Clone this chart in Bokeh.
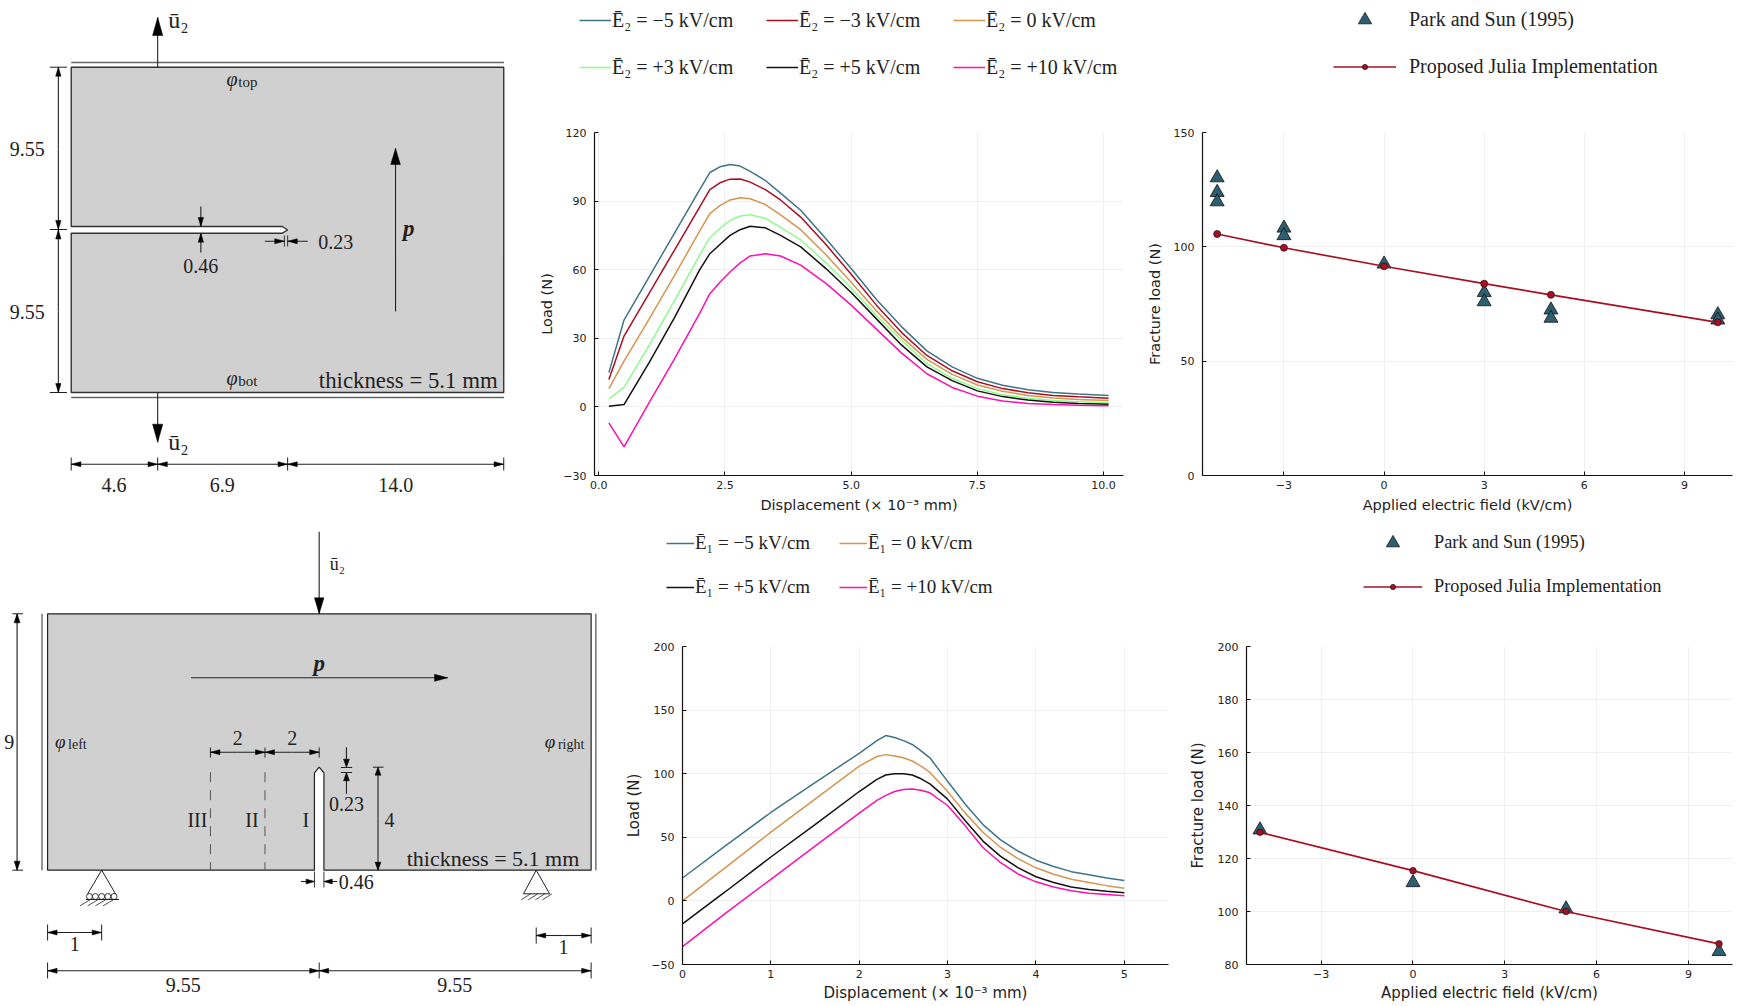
from bokeh.plotting import figure
from bokeh.layouts import column, row
from bokeh.models import Range1d, FixedTicker, Legend, LegendItem
from bokeh.core.properties import value
from bokeh.embed import file_html
from bokeh.resources import INLINE

# ---------- data ----------
top_disp = [0.2,0.5,1,1.5,2,2.2,2.4,2.6,2.8,3.0,3.3,3.6,4,4.5,5,5.5,6,6.5,7,7.5,8,8.5,9,9.5,10.1]
top_m5  = [15,38,57,76,95,102.5,105,106,105.3,103,99,93.5,86,73.5,60.5,47,35,24.5,17.5,12.5,9.5,7.5,6.3,5.6,5]
top_m3  = [12,31,49.8,68.6,87.5,95,98,99.6,99.7,98.3,95,90.5,83,71,58,44.5,32.5,22.5,15.8,11,8,6.2,5,4.4,3.8]
top_0   = [8,20,38.5,57.5,77,84.5,88,90.5,91.5,91,88.5,84,77.5,66.5,54.5,42,30.5,20.8,14.2,9.6,6.8,5,3.9,3.2,2.8]
top_p3  = [3.5,8.5,27,46.5,66.5,74,78,81.5,83.5,84,82.5,78.5,73,63,52,40,29,19,12.5,8,5.3,3.8,2.8,2.2,1.8]
top_p5  = [0.3,1,19.5,39,60,67,71,75,77.5,79,78.3,75,70,60.5,50,38.5,27,17.5,11.5,7,4.5,3,2,1.5,1.2]
top_p10 = [-7,-17.5,2,21,41,49.5,54.5,59,63,66,67,66,62,54,44.5,34,23.5,14.5,8.5,4.7,2.6,1.5,1,0.7,0.5]
top_labels = ["Ē₂ = −5 kV/cm","Ē₂ = −3 kV/cm","Ē₂ = 0 kV/cm","Ē₂ = +3 kV/cm","Ē₂ = +5 kV/cm","Ē₂ = +10 kV/cm"]

bot_disp = [0,0.5,1,1.5,2,2.2,2.3,2.4,2.5,2.6,2.7,2.8,3,3.2,3.4,3.6,3.8,4,4.2,4.4,4.6,4.8,5]
bot_m5  = [18,44,69.5,93,116,126,130,128.5,126,123,118,112.5,94,76,60,48,39,32,27,23,20.5,18,16]
bot_0   = [0,27,54,80,106,113.5,115,114,112.5,110,106,101,86,69,54,42,33,26,21,17,14.5,12,10]
bot_p5  = [-18,8,34.5,60,86,95.5,99,100,100,99,96,92,80,63,47,35,26,19,14.5,11,9,7.5,6.5]
bot_p10 = [-36,-9,17,43,69,79,83,86,87.5,88,87,85,75,59,42,30,21,15,11,8,6,5,4]
bot_labels = ["Ē₁ = −5 kV/cm","Ē₁ = 0 kV/cm","Ē₁ = +5 kV/cm","Ē₁ = +10 kV/cm"]

frac_top_exp_x = [-5,-5,-5,-3,-3,0,3,3,5,5,10,10]
frac_top_exp_y = [130.2,123.8,119.7,108.2,104.9,92.5,80,76,72.4,68.8,70.3,68]
frac_top_num_x = [-5,-3,0,3,5,10]
frac_top_num_y = [105.6,99.6,91.5,83.9,79,67]
frac_bot_exp_x = [-5,0,5,10]
frac_bot_exp_y = [130.8,110.9,101,84.9]
frac_bot_num_x = [-5,0,5,10]
frac_bot_num_y = [129.9,115.4,100,87.8]
exp_label, num_label = "Park and Sun (1995)", "Proposed Julia Implementation"

disp_top_ticks = [0,2.5,5,7.5,10]
load_top_ticks = [-30,0,30,60,90,120]
disp_bot_ticks = [0,1,2,3,4,5]
load_bot_ticks = [-50,0,50,100,150,200]
field_ticks = [-3,0,3,6,9]
frac_top_ticks = [0,50,100,150]
frac_bot_ticks = [80,100,120,140,160,180,200]

TEAL, RED, ORANGE, GREEN, BLACK, MAGENTA = "#3f7488","#a90f22","#d6954f","#8ffb8f","#111111","#ff0fb0"
TRI = "#2d5f70"
INK = "#222222"
SERIF = value("Liberation Serif")

# ---------- helpers ----------
def chart(w,h,xr,yr,ml,mr,mt,mb,xt,yt,xl,yl,xfmt,yfmt,fs,ls,ylab_off,xlab_off):
    p = figure(width=w,height=h,x_range=Range1d(*xr),y_range=Range1d(*yr),
               toolbar_location=None,output_backend="svg",min_border_left=ml,
               min_border_right=mr,min_border_top=mt,min_border_bottom=mb,frame_align=False)
    p.outline_line_color=None
    p.xaxis.ticker=FixedTicker(ticks=xt); p.yaxis.ticker=FixedTicker(ticks=yt)
    p.xaxis.major_label_overrides=xfmt; p.yaxis.major_label_overrides=yfmt
    p.xaxis.axis_label=xl; p.yaxis.axis_label=yl
    for a in (p.xaxis[0],p.yaxis[0]):
        a.axis_line_color="#111111"; a.axis_line_width=1.2
        a.major_tick_line_color="#111111"; a.major_tick_in=4; a.major_tick_out=0
        a.minor_tick_line_color=None
        a.major_label_text_font="DejaVu Sans"; a.major_label_text_font_size=f"{fs}px"
        a.major_label_text_color=INK
        a.axis_label_text_font="DejaVu Sans"; a.axis_label_text_font_size=f"{ls}px"
        a.axis_label_text_font_style="normal"; a.axis_label_text_color=INK
    p.xaxis.major_label_standoff=5; p.yaxis.major_label_standoff=8
    p.xaxis.axis_label_standoff=xlab_off; p.yaxis.axis_label_standoff=ylab_off
    p.grid.grid_line_color="#efefef"; p.grid.grid_line_width=1
    return p

def add_legend(p,items,x,y,ncols,glyph,standoff,label_w,label_h,spacing,fsize):
    lg=Legend(items=items,location=(x,y),ncols=ncols,glyph_width=glyph,glyph_height=label_h,
              label_standoff=standoff,label_width=label_w,label_height=label_h,spacing=spacing,
              padding=0,margin=0,background_fill_alpha=0,border_line_color=None,
              label_text_font="Liberation Serif",label_text_font_size=f"{fsize}px",
              label_text_color=INK,label_text_baseline="middle")
    p.add_layout(lg,"center")

def canvas(x0,x1,y0,y1,sx=1):
    p=figure(width=x1-x0,height=y1-y0,x_range=Range1d(x0/sx,x1/sx),y_range=Range1d(y1,y0),
             toolbar_location=None,output_backend="svg",min_border=0,frame_align=False)
    p.axis.visible=False; p.grid.visible=False; p.outline_line_color=None
    return p

def strip(w):
    # legend-only panel: its series lie outside this panel's view, only the legend shows
    return canvas(-50000,-50000+w,0,120)

def seg(p,xs,ys,w=1.1,c=INK,dash="solid"):
    p.line(xs,ys,line_width=w,line_color=c,line_dash=dash)

def arrow(p,x0,y0,x1,y1,L=9,W=5,w=1.1,c=INK):
    seg(p,[x0,x1],[y0,y1],w,c)
    d=((x1-x0)**2+(y1-y0)**2)**.5
    ux,uy=(x1-x0)/d,(y1-y0)/d
    bx,by=x1-ux*L,y1-uy*L
    p.patch([x1,bx-uy*W/2,bx+uy*W/2],[y1,by+ux*W/2,by-ux*W/2],fill_color="#000000",line_color="#000000",line_width=.5)

def txt(p,x,y,s,size=20,align="center",style="normal",c=INK):
    p.text([x],[y],text=[s],text_font=SERIF,text_font_size=f"{size}px",text_align=align,
           text_baseline="middle",text_font_style=style,text_color=c)

def phi(p,x,y,sub,size=20,ss=15):
    txt(p,x,y,"φ",size,"left","italic")
    txt(p,x+11,y+3,sub,ss,"left")

# ---------- top schematic ----------
a=canvas(0,525,0,516,1.0714)
a.patch([66,469.7,469.7,66,66,263,268,263,66],[66.7,66.7,392,392,232.7,232.7,229.5,226,226],
        fill_color="#d0d0d0",line_color="#333333",line_width=1.4)
seg(a,[66,470],[62,62],1.4,"#666666"); seg(a,[66,470],[397,397],1.4,"#666666")
arrow(a,146.7,66.7,146.7,17,18,9.5); arrow(a,146.7,392,146.7,441.7,18,9.5)
txt(a,166,19,"ū₂",24); txt(a,166,441,"ū₂",24)
for y in (66.7,229,392): seg(a,[46,62],[y,y],1)
arrow(a,54,148,54,66.7,9,5); arrow(a,54,148,54,229,9,5)
arrow(a,54,311,54,229.5,9,5); arrow(a,54,311,54,392,9,5)
txt(a,25,148,"9.55"); txt(a,25,311,"9.55")
arrow(a,187,206,187,226,9,5); arrow(a,187,252,187,232.7,9,5)
txt(a,187,265.5,"0.46")
arrow(a,246.7,240.7,265,240.7,9,5); arrow(a,286.7,240.7,268,240.7,9,5)
seg(a,[265,265],[235,246],.9); seg(a,[268,268],[235,246],.9)
txt(a,313,241,"0.23")
arrow(a,368.7,311,368.7,148,16,9)
txt(a,381,228,"p",23,"center","bold italic")
phi(a,211,78,"top"); phi(a,211,377,"bot")
txt(a,464,380,"thickness = 5.1 mm",22.8,"right")
for x in (66,146.7,268,469.7): seg(a,[x,x],[457,470],1)
arrow(a,106,463.7,66,463.7,9,5); arrow(a,106,463.7,146.7,463.7,9,5)
arrow(a,207,463.7,146.7,463.7,9,5); arrow(a,207,463.7,268,463.7,9,5)
arrow(a,369,463.7,268,463.7,9,5); arrow(a,369,463.7,469.7,463.7,9,5)
txt(a,106,484,"4.6"); txt(a,207,484,"6.9"); txt(a,369,484,"14.0")

# ---------- bottom schematic ----------
d=canvas(0,622,516,1005,1.186)
d.patch([39.7,498,498,272.7,272.7,268.7,264.7,264.7,39.7],
        [613.3,613.3,869.7,869.7,772.3,766.7,772.3,869.7,869.7],
        fill_color="#d0d0d0",line_color="#222222",line_width=1.2)
seg(d,[35,35],[613.3,869.7],1.4,"#666666"); seg(d,[502,502],[613.3,869.7],1.4,"#666666")
arrow(d,268.7,531.3,268.7,613.3,16,8)
txt(d,284,563,"ū₂",18)
arrow(d,14,741,14,613.3,9,5,1.5,"#555555"); arrow(d,14,741,14,869.7,9,5,1.5,"#555555")
seg(d,[10,19],[613.3,613.3],1); seg(d,[10,19],[869.7,869.7],1)
txt(d,7.3,741,"9")
arrow(d,160.7,677.3,377,677.3,11,7)
txt(d,268.7,663,"p",23,"center","bold italic")
phi(d,46,741,"left",19,14); phi(d,459,741,"right",19,14)
for x in (177,223,268.7): seg(d,[x,x],[747,757],1)
arrow(d,200,751.7,177,751.7,8,5); arrow(d,200,751.7,223,751.7,8,5)
arrow(d,246,751.7,223,751.7,8,5); arrow(d,246,751.7,268.7,751.7,8,5)
txt(d,200,737,"2"); txt(d,246,737,"2")
for x in (177,223): seg(d,[x,x],[771.7,869.7],1,"#555555","10 8")
txt(d,166,819,"III"); txt(d,212,819,"II"); txt(d,257.5,819,"I")
arrow(d,291.7,746.7,291.7,766.7,8,5); arrow(d,291.7,793.3,291.7,772.3,8,5)
seg(d,[287,296.5],[767,767],1); seg(d,[287,296.5],[772,772],1)
txt(d,291.7,803.5,"0.23")
arrow(d,318.3,818,318.3,766.7,8,5); arrow(d,318.3,818,318.3,869.7,8,5)
seg(d,[314,323],[766.7,766.7],1)
txt(d,328,819.5,"4")
txt(d,488,858,"thickness = 5.1 mm",22,"right")
arrow(d,253.3,881,264.7,881,7,5); arrow(d,284,881,272.7,881,7,5)
seg(d,[264.7,264.7],[871,887],.9); seg(d,[272.7,272.7],[871,887],.9)
txt(d,300,881,"0.46")
# supports
seg(d,[73.5,85.3,97],[893.3,869.7,893.3],1)
d.scatter([75,80,85.3,90.5,95.7],[896,896,896,896,896],marker="circle",size=6,fill_alpha=0,line_color=INK,line_width=.9)
seg(d,[72,100],[899,899],1)
for x in (76,82.5,89,95.5): seg(d,[x,x-9],[899,905.3],.8)
seg(d,[441,451.7,463],[893.3,869.7,893.3],1)
seg(d,[441,463],[893.3,893.3],1)
for x in (447,453,459,465): seg(d,[x,x-8],[893.3,899.3],.8)
# dims
for x in (39.7,85.3): seg(d,[x,x],[924,940],1)
arrow(d,62.5,932,39.7,932,8,5); arrow(d,62.5,932,85.3,932,8,5)
txt(d,62.5,943,"1")
for x in (451.7,498): seg(d,[x,x],[927,943],1)
arrow(d,474.7,935,451.7,935,8,5); arrow(d,474.7,935,498,935,8,5)
txt(d,474.7,946,"1")
for x in (39.7,268.7,498): seg(d,[x,x],[962,978],1)
arrow(d,154,970.3,39.7,970.3,8,5); arrow(d,154,970.3,268.7,970.3,8,5)
arrow(d,383,970.3,268.7,970.3,8,5); arrow(d,383,970.3,498,970.3,8,5)
txt(d,154,984,"9.55"); txt(d,383,984,"9.55")

def line_style(c_,w=1.5): return dict(line_color=c_,line_width=w)
TRI_STYLE=dict(marker="triangle",fill_color=TRI,line_color="#111111",line_width=.8)
DOT_STYLE=dict(marker="circle",fill_color=RED,line_color="#111111",line_width=.7)

# ---------- load-displacement (top) ----------
b=chart(610,396,(-0.085,10.395),(-30,120),69,12,12,41,disp_top_ticks,load_top_ticks,
        "Displacement (× 10⁻³ mm)","Load (N)",
        {0:"0.0",2.5:"2.5",5:"5.0",7.5:"7.5",10:"10.0"},{-30:"−30"},11,14.5,5,5)
colors=[TEAL,RED,ORANGE,GREEN,BLACK,MAGENTA]
series=[top_m5,top_m3,top_0,top_p3,top_p5,top_p10]
sb=strip(610)
rs=[]
for v,c_ in zip(series,colors):
    b.line(top_disp,v,**line_style(c_))
    rs.append(sb.line(top_disp,v,**line_style(c_)))
order=[0,3,1,4,2,5]
add_legend(sb,[LegendItem(label=top_labels[i],renderers=[rs[i]]) for i in order],
           54,40,3,32,1,133,26,21,20)

# ---------- fracture load (top) ----------
c=chart(611,396,(-5.44,10.44),(0,150),67,14,12,41,field_ticks,frac_top_ticks,
        "Applied electric field (kV/cm)","Fracture load (N)",{-3:"−3"},{},11,14.5,8,5)
c.scatter(frac_top_exp_x,frac_top_exp_y,size=14,**TRI_STYLE)
c.line(frac_top_num_x,frac_top_num_y,**line_style(RED,1.7))
c.scatter(frac_top_num_x,frac_top_num_y,size=7,**DOT_STYLE)
sc=strip(611)
t=sc.scatter(frac_top_exp_x,frac_top_exp_y,**TRI_STYLE)
l=sc.line(frac_top_num_x,frac_top_num_y,**line_style(RED,1.7))
m=sc.scatter(frac_top_num_x,frac_top_num_y,**DOT_STYLE)
add_legend(sc,[LegendItem(label=exp_label,renderers=[t])],198,84,1,63,13,250,33,0,20)
add_legend(sc,[LegendItem(label=num_label,renderers=[l,m])],198,42,1,63,13,250,13,0,20)

# ---------- load-displacement (bottom) ----------
e=chart(563,369,(0,5.5),(-50,200),60,17,10,41,disp_bot_ticks,load_bot_ticks,
        "Displacement (× 10⁻³ mm)","Load (N)",{},{-50:"−50"},11,15,5,3)
colors=[TEAL,ORANGE,BLACK,MAGENTA]
series=[bot_m5,bot_0,bot_p5,bot_p10]
se=strip(563)
rs=[]
for v,c_ in zip(series,colors):
    e.line(bot_disp,v,**line_style(c_))
    rs.append(se.line(bot_disp,v,**line_style(c_)))
order=[0,2,1,3]
add_legend(se,[LegendItem(label=bot_labels[i],renderers=[rs[i]]) for i in order],
           44,37,2,28,1,124,24,20,19)

# ---------- fracture load (bottom) ----------
f=chart(561,369,(-5.44,10.44),(80,200),59,14,10,41,field_ticks,frac_bot_ticks,
        "Applied electric field (kV/cm)","Fracture load (N)",{-3:"−3"},{},11,15,8,3)
f.scatter(frac_bot_exp_x,frac_bot_exp_y,size=14,**TRI_STYLE)
f.line(frac_bot_num_x,frac_bot_num_y,**line_style(RED,1.7))
f.scatter(frac_bot_num_x,frac_bot_num_y,size=6.5,**DOT_STYLE)
sf=strip(561)
t=sf.scatter(frac_bot_exp_x,frac_bot_exp_y,**TRI_STYLE)
l=sf.line(frac_bot_num_x,frac_bot_num_y,**line_style(RED,1.7))
m=sf.scatter(frac_bot_num_x,frac_bot_num_y,**DOT_STYLE)
add_legend(sf,[LegendItem(label=exp_label,renderers=[t])],178,77,1,59,12,230,33,0,18.3)
add_legend(sf,[LegendItem(label=num_label,renderers=[l,m])],178,39,1,59,12,230,13,0,18.3)

page=column(row(a,column(sb,b,spacing=0),column(sc,c,spacing=0),spacing=0),
            row(d,column(se,e,spacing=0),column(sf,f,spacing=0),spacing=0),spacing=0)
open("out.html","w").write(file_html(page,INLINE))
